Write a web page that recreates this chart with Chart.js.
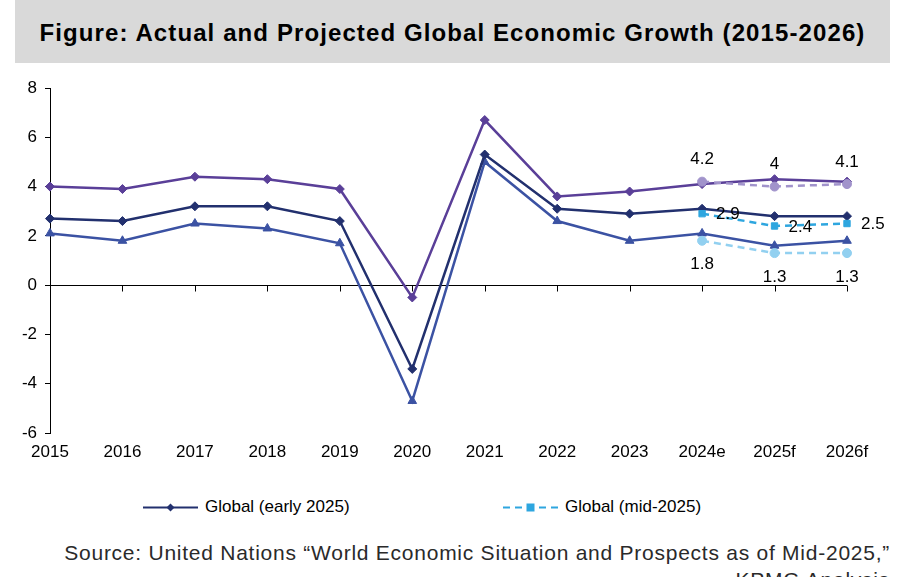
<!DOCTYPE html>
<html>
<head>
<meta charset="utf-8">
<script src="https://cdn.jsdelivr.net/npm/chart.js@4.4.1/dist/chart.umd.min.js"></script>
<style>
body { margin: 0; width: 899px; height: 577px; overflow: hidden; background: #fff; position: relative;
       font-family: "Liberation Sans", Arial, sans-serif; }
#title { position: absolute; left: 15px; top: 0; width: 875px; height: 63px; background: #d9d9d9;
         font-weight: bold; font-size: 24px; letter-spacing: 1.1px; line-height: 66px; text-align: center; color: #000; }
#wrap { position: absolute; left: 0; top: 63px; }
.leg { position: absolute; top: 496px; font-size: 17px; line-height: 22px; display: flex; align-items: center; color: #000; }
.leg svg { margin-right: 7px; }
.src { position: absolute; right: 9px; font-size: 21px; letter-spacing: 0.75px; line-height: 24px; color: #2a2a2a; white-space: nowrap; }
</style>
</head>
<body>
<div id="title">Figure: Actual and Projected Global Economic Growth (2015-2026)</div>
<div id="wrap"><canvas id="growthChart" width="899" height="420"></canvas></div>
<div id="legend"></div>
<div class="src" style="top:541px">Source: United Nations “World Economic Situation and Prospects as of Mid-2025,”</div>
<div class="src" style="top:568px">KPMG Analysis</div>
<script>
// categories
const years = ['2015', '2016', '2017', '2018', '2019', '2020', '2021', '2022', '2023', '2024e', '2025f', '2026f'];
const yTicks = [-6, -4, -2, 0, 2, 4, 6, 8];

// early 2025 estimates (solid lines)
const upperEarly = [4.0, 3.9, 4.4, 4.3, 3.9, -0.5, 6.7, 3.6, 3.8, 4.1, 4.3, 4.2];
const globalEarly = [2.7, 2.6, 3.2, 3.2, 2.6, -3.4, 5.3, 3.1, 2.9, 3.1, 2.8, 2.8];
const lowerEarly = [2.1, 1.8, 2.5, 2.3, 1.7, -4.7, 5.0, 2.6, 1.8, 2.1, 1.6, 1.8];

// mid-2025 update (dashed lines, only the last three years)
const upperMid = [null, null, null, null, null, null, null, null, null, 4.2, 4.0, 4.1];
const globalMid = [null, null, null, null, null, null, null, null, null, 2.9, 2.4, 2.5];
const lowerMid = [null, null, null, null, null, null, null, null, null, 1.8, 1.3, 1.3];

const legendLabels = ['Global (early 2025)', 'Global (mid-2025)'];

function solid(label, data, color, style, radius) {
    return {
        label: label, data: data, borderColor: color, backgroundColor: color,
        borderWidth: 2.5, pointStyle: style, pointRadius: radius, pointBorderWidth: 1,
        pointBorderColor: color, tension: 0
    };
}
function dashed(label, data, color, style, radius, labelPos) {
    return {
        label: label, data: data, borderColor: color, backgroundColor: color,
        borderWidth: 2.5, borderDash: [7, 5], pointStyle: style, pointRadius: radius,
        pointBorderWidth: 1, pointBorderColor: color, tension: 0, labelPos: labelPos
    };
}

const datasets = [
    dashed('Upper (mid-2025)', upperMid, '#a193cb', 'circle', 4.5, 'above'),
    dashed(legendLabels[1], globalMid, '#2ea6df', 'rect', 4.5, 'right'),
    dashed('Lower (mid-2025)', lowerMid, '#92d0f0', 'circle', 4.5, 'below'),
    solid('Upper (early 2025)', upperEarly, '#5a3f98', 'rectRot', 4.5),
    solid(legendLabels[0], globalEarly, '#22306e', 'rectRot', 4.5),
    solid('Lower (early 2025)', lowerEarly, '#3b52a3', 'triangle', 5)
];

// zero line with downward tick marks, drawn under the series
const zeroAxis = {
    id: 'zeroAxis',
    beforeDatasetsDraw(chart) {
        const {ctx, chartArea, scales: {x, y}} = chart;
        const y0 = Math.round(y.getPixelForValue(0)) + 0.5;
        ctx.save();
        ctx.strokeStyle = '#000';
        ctx.lineWidth = 1;
        ctx.beginPath();
        ctx.moveTo(chartArea.left, y0);
        ctx.lineTo(chartArea.right, y0);
        years.forEach((yr, i) => {
            const px = Math.round(x.getPixelForValue(i)) + 0.5;
            ctx.moveTo(px, y0);
            ctx.lineTo(px, y0 + 6);
        });
        ctx.stroke();
        ctx.restore();
    }
};

// value labels on the mid-2025 points
const valueLabels = {
    id: 'valueLabels',
    afterDatasetsDraw(chart) {
        const ctx = chart.ctx;
        ctx.save();
        ctx.font = '17px "Liberation Sans", Arial, sans-serif';
        ctx.fillStyle = '#000';
        chart.data.datasets.forEach((ds, di) => {
            if (!ds.labelPos) return;
            const meta = chart.getDatasetMeta(di);
            meta.data.forEach((pt, i) => {
                const v = ds.data[i];
                if (v === null) return;
                const txt = String(v);
                if (ds.labelPos === 'above') {
                    ctx.textAlign = 'center'; ctx.textBaseline = 'middle';
                    ctx.fillText(txt, pt.x, pt.y - 22);
                } else if (ds.labelPos === 'below') {
                    ctx.textAlign = 'center'; ctx.textBaseline = 'middle';
                    ctx.fillText(txt, pt.x, pt.y + 24);
                } else {
                    ctx.textAlign = 'left'; ctx.textBaseline = 'middle';
                    ctx.fillText(txt, pt.x + 14, pt.y + 1);
                }
            });
        });
        ctx.restore();
    }
};

Chart.defaults.font.family = '"Liberation Sans", Arial, sans-serif';
Chart.defaults.color = '#000';

const ctx1 = document.querySelector('#growthChart').getContext('2d');
const chart1 = new Chart(ctx1, {
    type: 'line',
    data: { labels: years, datasets: datasets },
    options: {
        responsive: false,
        animation: false,
        devicePixelRatio: 1,
        layout: { padding: { left: 0, right: 52, top: 25, bottom: 10 } },
        plugins: { legend: { display: false }, tooltip: { enabled: false } },
        scales: {
            x: {
                offset: false,
                grid: { display: false, drawTicks: false },
                border: { display: false },
                ticks: { font: { size: 17 }, padding: 9, maxRotation: 0, autoSkip: false },
                afterFit: scale => { scale.height = 40; }
            },
            y: {
                min: -6, max: 8,
                afterBuildTicks: scale => { scale.ticks = yTicks.map(v => ({ value: v })); },
                grid: { drawOnChartArea: false, drawTicks: true, tickLength: 5, color: '#000' },
                border: { display: true, color: '#000', width: 1 },
                ticks: { font: { size: 17 }, padding: 8 },
                afterFit: scale => { scale.width = 50; }
            }
        }
    },
    plugins: [zeroAxis, valueLabels]
});

// legend built from the two global series
function legendIcon(ds) {
    const c = ds.borderColor;
    const dash = ds.borderDash ? 'stroke-dasharray="7 5"' : '';
    let marker;
    if (ds.pointStyle === 'rect') marker = `<rect x="23.5" y="2.5" width="8" height="8" fill="${c}"/>`;
    else marker = `<polygon points="27.5,2.5 31.5,6.5 27.5,10.5 23.5,6.5" fill="${c}"/>`;
    return `<svg width="55" height="13"><line x1="0" y1="6.5" x2="55" y2="6.5" stroke="${c}" stroke-width="2" ${dash}/>${marker}</svg>`;
}
const legendEl = document.getElementById('legend');
const legendLeft = [143, 503];
legendLabels.forEach((lab, i) => {
    const ds = datasets.find(d => d.label === lab);
    const item = document.createElement('div');
    item.className = 'leg';
    item.style.left = legendLeft[i] + 'px';
    item.innerHTML = legendIcon(ds) + '<span>' + lab + '</span>';
    legendEl.appendChild(item);
});
</script>
</body>
</html>
